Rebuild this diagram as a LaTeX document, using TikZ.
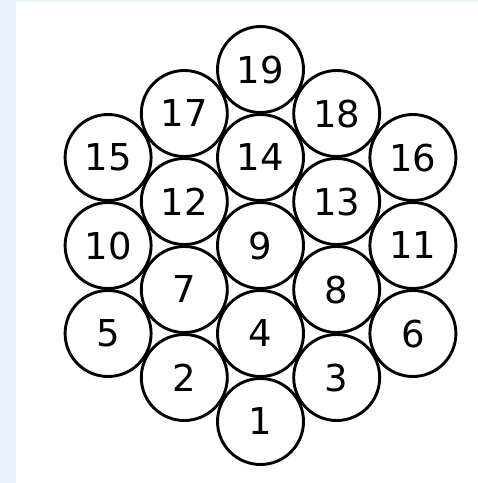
\documentclass[tikz,border=0pt]{standalone}
\usepackage{fontspec}
\setmainfont{DejaVu Sans}
\definecolor{bgblue}{HTML}{E8F2F9}
\begin{document}
\begin{tikzpicture}[x=1pt,y=-1pt,
  ball/.style={circle,draw=black,line width=2.9pt,fill=white,minimum size=86pt,inner sep=0pt,
    font=\fontsize{37}{40}\selectfont,text depth=0pt}]
\fill[bgblue] (0,0) rectangle (478,483);
\fill[white] (16,1.5) rectangle (478,483);
\useasboundingbox (0,0) rectangle (478,483);
\def\ca{108.1}\def\cb{184.3}\def\cc{260.5}\def\cd{336.7}\def\ce{412.9}
\node[ball] (n19) at (\cc,69.5) {19};
\node[ball] (n17) at (\cb,113.5) {17};
\node[ball] (n18) at (\cd,113.5) {18};
\node[ball] (n15) at (\ca,157.5) {15};
\node[ball] (n14) at (\cc,157.5) {14};
\node[ball] (n16) at (\ce,157.5) {16};
\node[ball] (n12) at (\cb,201.5) {12};
\node[ball] (n13) at (\cd,201.5) {13};
\node[ball] (n10) at (\ca,245.5) {10};
\node[ball] (n9) at (\cc,245.5) {9};
\node[ball] (n11) at (\ce,245.5) {11};
\node[ball] (n7) at (\cb,289.5) {7};
\node[ball] (n8) at (\cd,289.5) {8};
\node[ball] (n5) at (\ca,333.5) {5};
\node[ball] (n4) at (\cc,333.5) {4};
\node[ball] (n6) at (\ce,333.5) {6};
\node[ball] (n2) at (\cb,377.5) {2};
\node[ball] (n3) at (\cd,377.5) {3};
\node[ball] (n1) at (\cc,421.5) {1};
\end{tikzpicture}
\end{document}
